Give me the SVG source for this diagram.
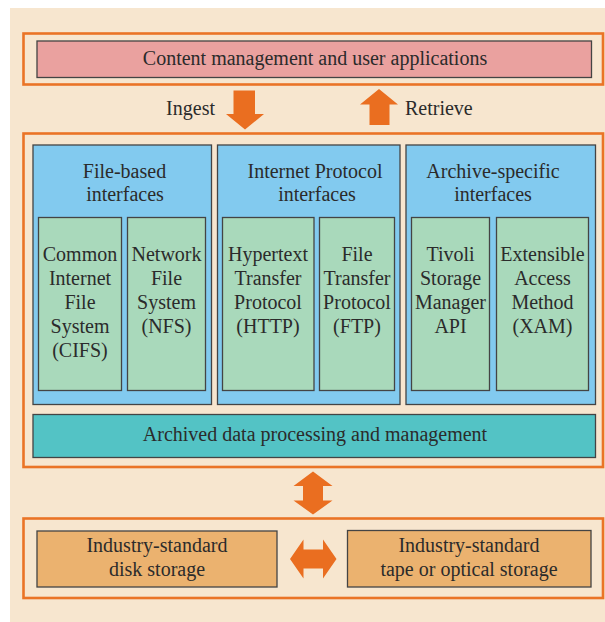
<svg xmlns="http://www.w3.org/2000/svg" width="605" height="622" viewBox="0 0 605 622">
<style>
text{font-family:"Liberation Serif","Times New Roman",serif;font-size:20px;fill:#2b2b2b;text-anchor:middle}
.frame{fill:none;stroke:#EA7426;stroke-width:2.6}
.box{stroke:#444;stroke-width:1.3}
.pink{fill:#EAA19F}
.blue{fill:#82CAEF}
.green{fill:#A9D9BB}
.teal{fill:#53C3C5}
.tan{fill:#EBB26F}
.arrow{fill:#EA6E20}
</style>
<rect x="10" y="8" width="595" height="614" fill="#F7E6CF"/>
<rect class="frame" x="23.5" y="33.5" width="579.5" height="51"/>
<rect class="frame" x="23.5" y="133.5" width="579.5" height="333.5"/>
<rect class="frame" x="23.5" y="518.5" width="579.5" height="79.5"/>
<g id="apps">
<rect class="box pink" x="37" y="41" width="554.5" height="36.5"/>
<text x="315" y="64.5">Content management and user applications</text>
</g>
<g id="file-based">
<rect class="box blue" x="33" y="145" width="178.5" height="259.5"/>
<text x="124.5" y="178">File-based</text>
<text x="125" y="201">interfaces</text>
</g>
<g id="cifs">
<rect class="box green" x="38.5" y="217.5" width="83" height="173"/>
<text x="80" y="261">Common</text>
<text x="80" y="285">Internet</text>
<text x="80" y="309">File</text>
<text x="80" y="333">System</text>
<text x="80" y="357">(CIFS)</text>
</g>
<g id="nfs">
<rect class="box green" x="127.5" y="217.5" width="78" height="173"/>
<text x="166.5" y="261">Network</text>
<text x="166.5" y="285">File</text>
<text x="166.5" y="309">System</text>
<text x="166.5" y="333">(NFS)</text>
</g>
<g id="ip">
<rect class="box blue" x="217.5" y="145" width="182.5" height="259.5"/>
<text x="315" y="178">Internet Protocol</text>
<text x="317" y="201">interfaces</text>
</g>
<g id="http">
<rect class="box green" x="222.5" y="217.5" width="91.5" height="173"/>
<text x="268" y="261">Hypertext</text>
<text x="268" y="285">Transfer</text>
<text x="268" y="309">Protocol</text>
<text x="268" y="333">(HTTP)</text>
</g>
<g id="ftp">
<rect class="box green" x="319.5" y="217.5" width="75" height="173"/>
<text x="357" y="261">File</text>
<text x="357" y="285">Transfer</text>
<text x="357" y="309">Protocol</text>
<text x="357" y="333">(FTP)</text>
</g>
<g id="archive">
<rect class="box blue" x="406" y="145" width="189.5" height="259.5"/>
<text x="493" y="178">Archive-specific</text>
<text x="493" y="201">interfaces</text>
</g>
<g id="tivoli">
<rect class="box green" x="411.5" y="217.5" width="78" height="173"/>
<text x="450.5" y="261">Tivoli</text>
<text x="450.5" y="285">Storage</text>
<text x="450.5" y="309">Manager</text>
<text x="450.5" y="333">API</text>
</g>
<g id="xam">
<rect class="box green" x="496.5" y="217.5" width="92" height="173"/>
<text x="542.5" y="261">Extensible</text>
<text x="542.5" y="285">Access</text>
<text x="542.5" y="309">Method</text>
<text x="542.5" y="333">(XAM)</text>
</g>
<g id="processing">
<rect class="box teal" x="33" y="414.5" width="562.5" height="43"/>
<text x="315" y="441">Archived data processing and management</text>
</g>
<g id="disk">
<rect class="box tan" x="37" y="531" width="240" height="56"/>
<text x="157" y="552">Industry-standard</text>
<text x="157" y="575.5">disk storage</text>
</g>
<g id="tape">
<rect class="box tan" x="347.5" y="530.5" width="243.5" height="56.5"/>
<text x="469" y="552">Industry-standard</text>
<text x="469" y="575.5">tape or optical storage</text>
</g>
<g id="connectors">
<polygon class="arrow" points="233.5,90.5 255,90.5 255,114 264,114 245,129.5 226,114 233.5,114"/>
<text x="215" y="115" style="text-anchor:end">Ingest</text>
<polygon class="arrow" points="379,89 398,104.5 389.5,104.5 389.5,125 369.5,125 369.5,104.5 360,104.5"/>
<text x="405" y="115" style="text-anchor:start">Retrieve</text>
<polygon class="arrow" points="313,471.5 332.5,486 323,486 323,500.5 332.5,500.5 313,514.5 293.5,500.5 303,500.5 303,486 293.5,486"/>
<polygon class="arrow" points="290,559 303.5,539.5 303.5,549.5 323,549.5 323,539.5 336.5,559 323,578.5 323,568.5 303.5,568.5 303.5,578.5"/>
</g>
</svg>
